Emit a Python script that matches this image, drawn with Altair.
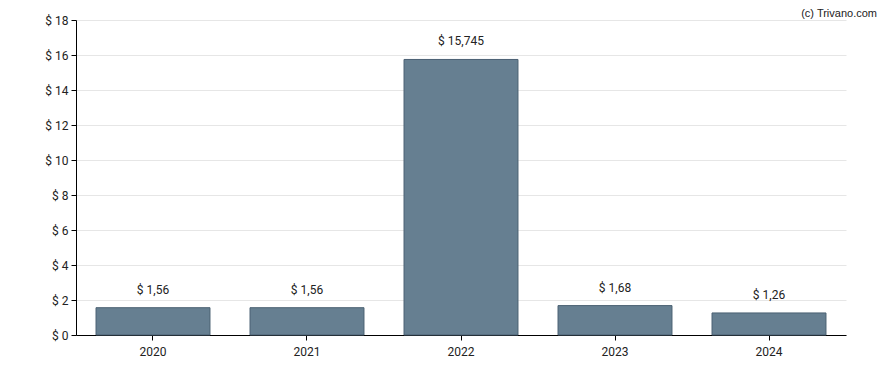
import altair as alt
import pandas as pd

years = ["2020", "2021", "2022", "2023", "2024"]
values = [1.56, 1.56, 15.745, 1.68, 1.26]
labels = ["$ 1,56", "$ 1,56", "$ 15,745", "$ 1,68", "$ 1,26"]
y_ticks = [0, 2, 4, 6, 8, 10, 12, 14, 16, 18]

df = pd.DataFrame({"year": years, "value": values, "label": labels})

FONT = "Roboto"

x = alt.X("year:N", title=None,
          scale=alt.Scale(paddingInner=0.26, paddingOuter=0.13),
          axis=alt.Axis(labelAngle=0, domainColor="#000", tickColor="#000",
                        labelColor="#222", labelFont=FONT, labelFontSize=12,
                        tickSize=5, labelPadding=6, grid=False))
y = alt.Y("value:Q", title=None,
          scale=alt.Scale(domain=[0, 18], nice=False),
          axis=alt.Axis(values=y_ticks, labelExpr="'$ ' + datum.value",
                        domainColor="#000", tickColor="#000", labelColor="#222",
                        labelFont=FONT, labelFontSize=12, tickSize=5,
                        gridColor="#e6e6e6", labelPadding=3))

bars = alt.Chart(df).mark_bar(color="#667f91", stroke="#4a6072", strokeWidth=1).encode(x=x, y=y)
text = alt.Chart(df).mark_text(baseline="bottom", dy=-11, font=FONT, fontSize=12, color="#222").encode(
    x=x, y=y, text="label:N")
wm = alt.Chart(pd.DataFrame({"t": ["(c) Trivano.com"]})).mark_text(
    align="right", baseline="top", font="Liberation Sans", fontSize=11, color="#222").encode(
    x=alt.value(801), y=alt.value(-12), text="t:N")

chart = alt.layer(bars, text, wm).properties(
    width=770, height=315,
    autosize=alt.AutoSizeParams(type="none"),
    padding={"left": 68, "top": 12, "right": 34, "bottom": 27},
    background="white",
).configure_view(stroke=None)

chart.save("out.html", embed_options={"renderer": "svg", "actions": False})
